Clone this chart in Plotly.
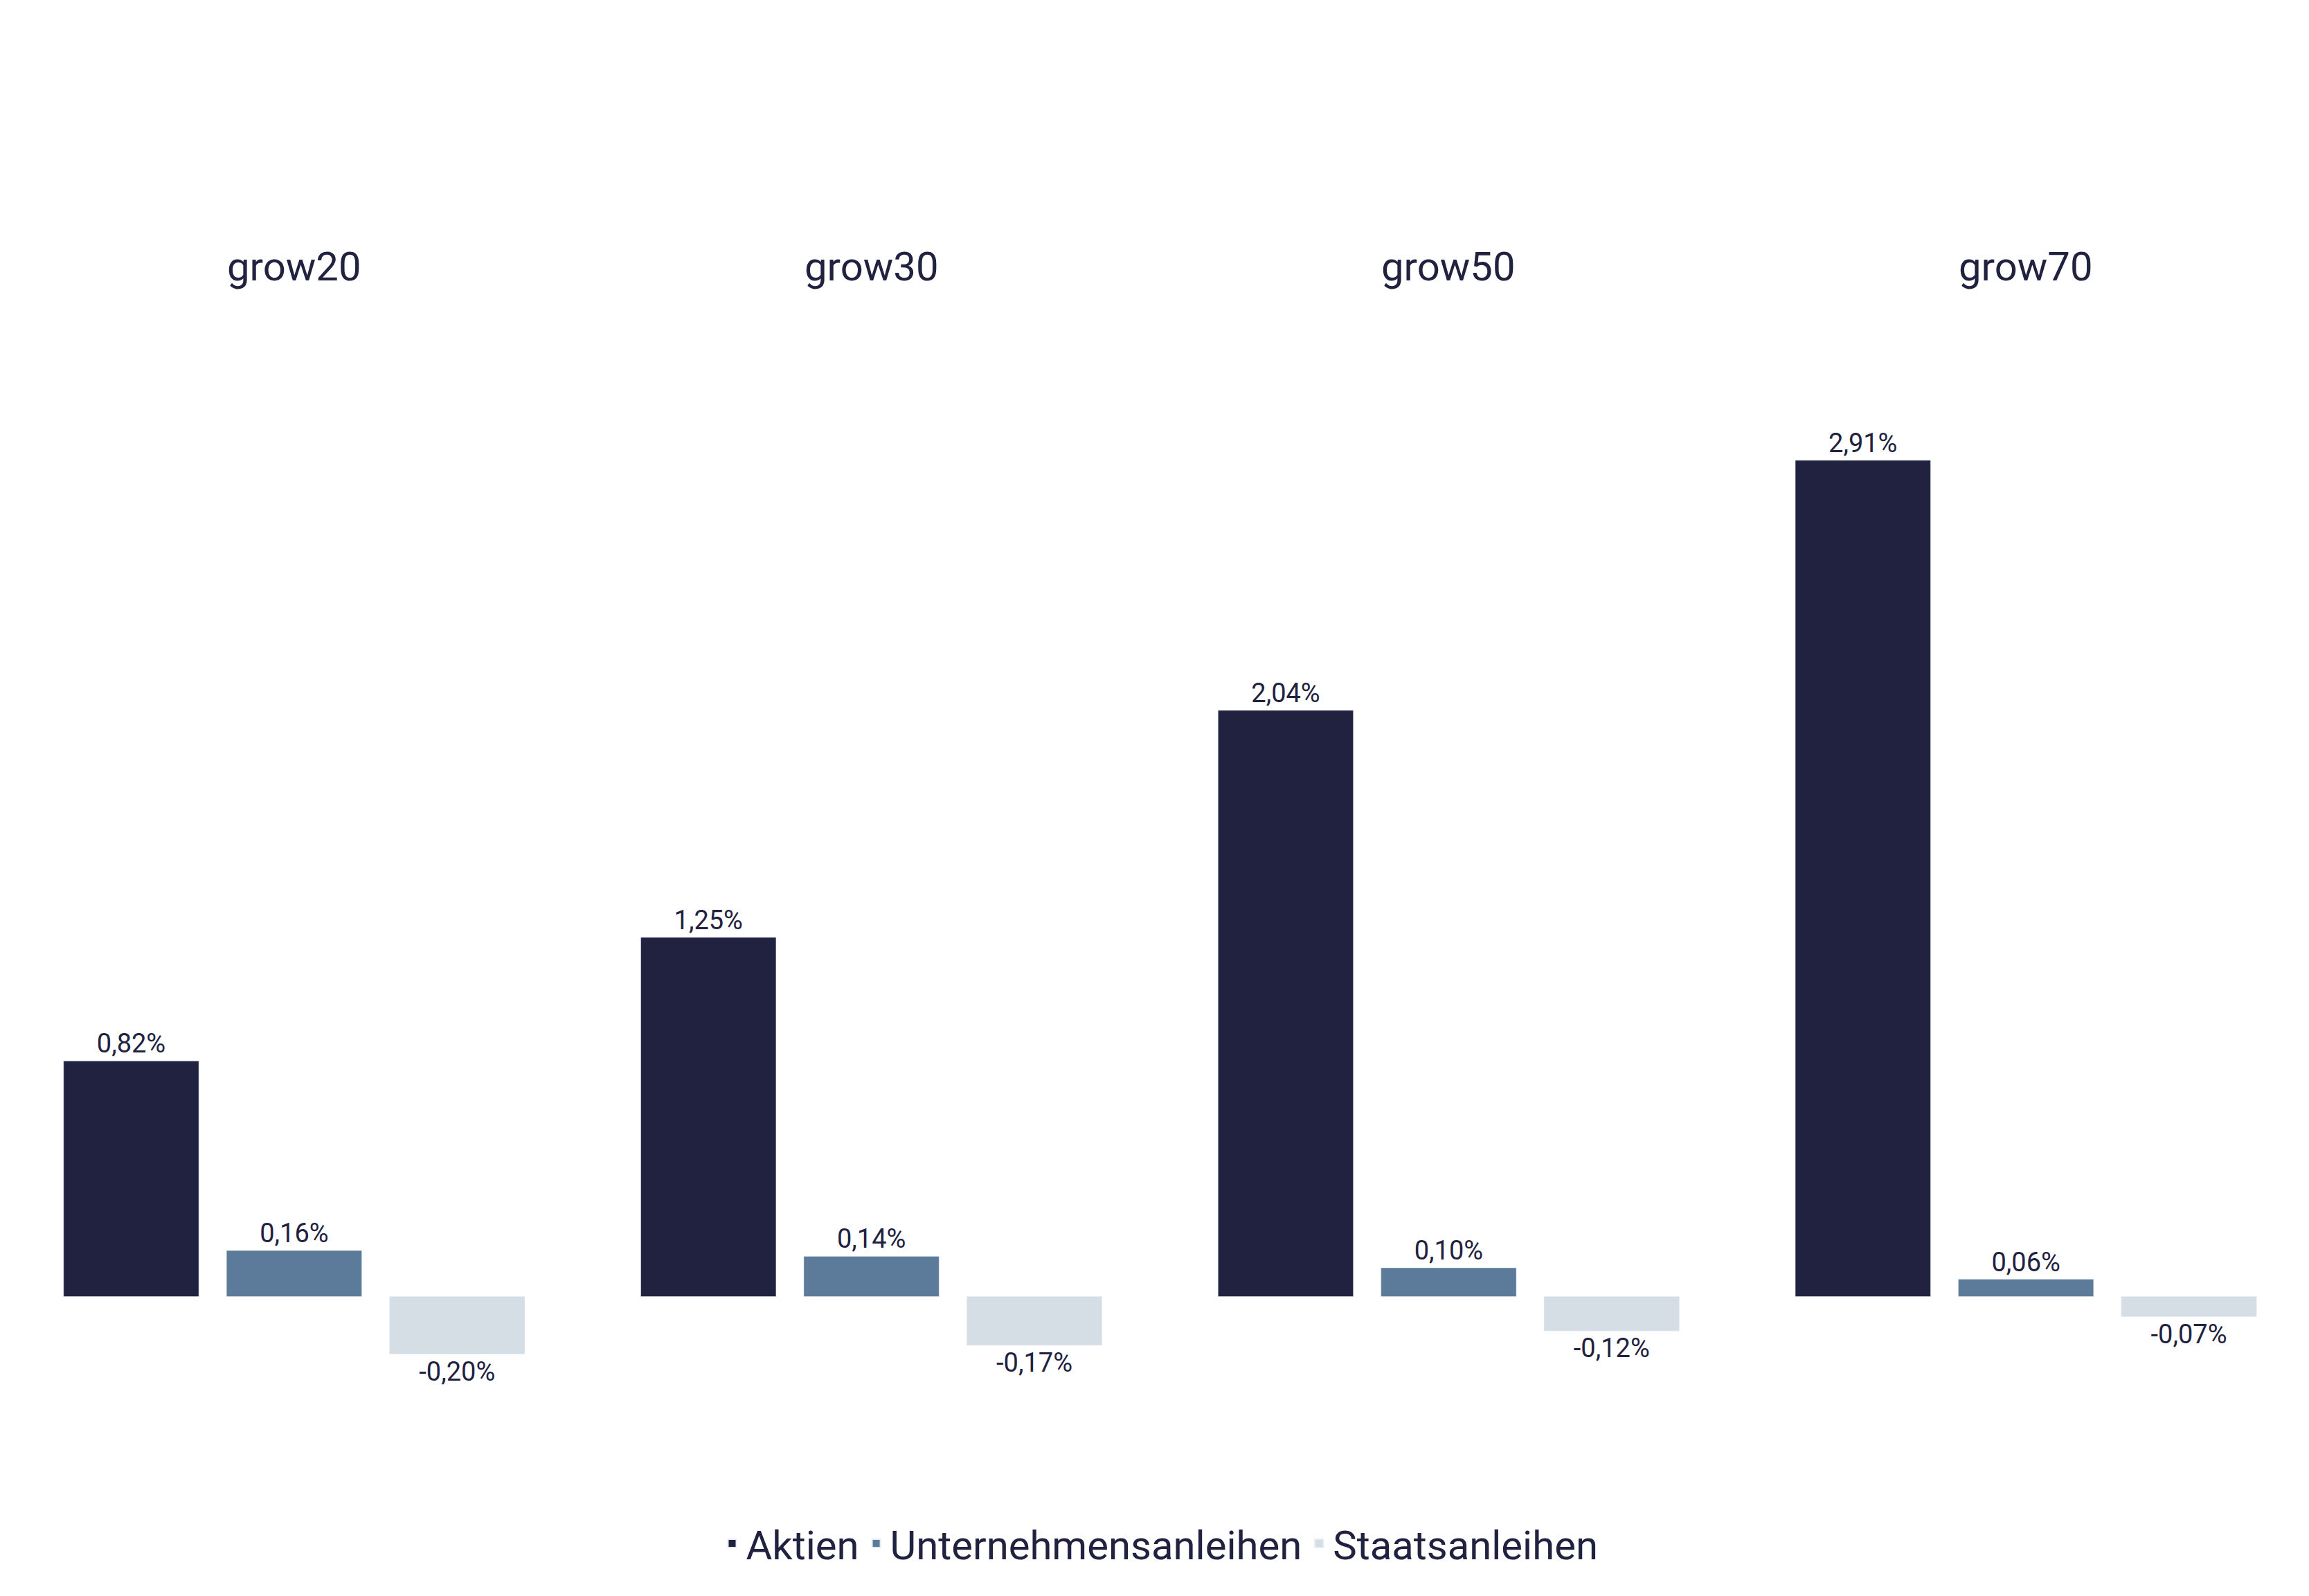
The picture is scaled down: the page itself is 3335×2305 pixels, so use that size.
import plotly.graph_objects as go

categories = ["grow20", "grow30", "grow50", "grow70"]
aktien = [0.82, 1.25, 2.04, 2.91]
unternehmen = [0.16, 0.14, 0.10, 0.06]
staat = [-0.20, -0.17, -0.12, -0.07]
series = [("Aktien", aktien, "#212140"),
          ("Unternehmensanleihen", unternehmen, "#5c7a99"),
          ("Staatsanleihen", staat, "#d6dee5")]

def fmt(v):
    return f"{v:.2f}".replace(".", ",") + "%"

fig = go.Figure()
for name, vals, col in series:
    fig.add_trace(go.Bar(x=categories, y=vals, name=name, marker_color=col,
                         text=[fmt(v) for v in vals], textposition="outside",
                         textfont=dict(size=38, color="#212140"), cliponaxis=False))

for c in categories:
    fig.add_annotation(x=c, y=1.043, yref="paper", text=c, showarrow=False,
                       font=dict(size=58, color="#212140"))

fig.update_layout(
    width=3335, height=2305, barmode="group", bargap=0.153, bargroupgap=0.17,
    plot_bgcolor="white", paper_bgcolor="white",
    font=dict(family="Roboto", color="#212140"),
    margin=dict(l=0, r=0, t=412, b=233),
    xaxis=dict(showticklabels=False, showgrid=False, zeroline=False),
    yaxis=dict(range=[-0.5, 3.5], visible=False),
    legend=dict(orientation="h", x=0.5, xanchor="center", y=-0.09, yanchor="middle",
                font=dict(size=58, color="#212140"), itemsizing="constant"),
)
fig.write_html("out.html")
